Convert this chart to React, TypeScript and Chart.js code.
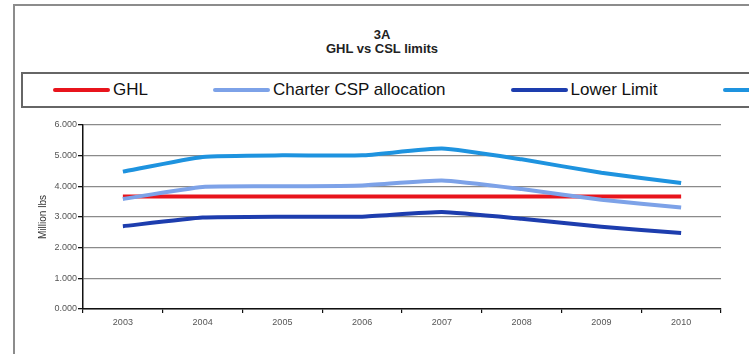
import React, { useEffect, useRef } from "react";
import { Chart, registerables } from "chart.js";

Chart.register(...registerables);

const categories = ["2003", "2004", "2005", "2006", "2007", "2008", "2009", "2010"];
const ghl = [3670, 3670, 3670, 3670, 3670, 3670, 3670, 3670];
const charterCsp = [3590, 3980, 4000, 4030, 4190, 3910, 3560, 3310];
const lowerLimit = [2700, 2980, 3010, 3010, 3160, 2940, 2680, 2480];
const upperLimit = [4480, 4960, 5010, 5010, 5230, 4880, 4440, 4110];
const yTickLabels = ["0.000", "1.000", "2.000", "3.000", "4.000", "5.000", "6.000"];
const seriesNames = ["GHL", "Charter CSP allocation", "Lower Limit", "Upper Limit"];
const seriesColors = ["#E8141C", "#7DA2E8", "#1D3DAE", "#1E93DF"];
const titleLines = ["3A", "GHL vs CSL limits"];

const FONT = "'Liberation Sans', Arial, sans-serif";

export default function App() {
  const ref = useRef<HTMLCanvasElement | null>(null);

  useEffect(() => {
    if (!ref.current) return;
    const values = [ghl, charterCsp, lowerLimit, upperLimit];
    const orders = [1, 0, 2, 3];
    const chart = new Chart(ref.current, {
      type: "line",
      data: {
        labels: categories,
        datasets: values.map((v, i) => ({
          label: seriesNames[i],
          data: v,
          borderColor: seriesColors[i],
          backgroundColor: seriesColors[i],
          borderWidth: 4,
          pointRadius: 0,
          tension: 0.15,
          fill: false,
          order: orders[i],
        })),
      },
      options: {
        responsive: false,
        animation: false,
        devicePixelRatio: 1,
        layout: { padding: { left: 37, top: 125, right: 28, bottom: 0 } },
        plugins: {
          legend: { display: false },
          title: { display: false },
          tooltip: { enabled: false },
        },
        scales: {
          x: {
            type: "category",
            offset: true,
            grid: {
              offset: true,
              drawOnChartArea: false,
              drawTicks: true,
              tickLength: 4,
              tickColor: "#111",
              lineWidth: 1.2,
            },
            border: { display: true, color: "#111", width: 1.5 },
            ticks: {
              autoSkip: false,
              maxRotation: 0,
              padding: 4,
              color: "#555",
              font: { family: FONT, size: 9 },
            },
            afterFit: (s: any) => {
              s.height = 45;
            },
          },
          y: {
            min: 0,
            max: 6000,
            ticks: {
              stepSize: 1000,
              padding: 1,
              color: "#555",
              font: { family: FONT, size: 9 },
              callback: (_v: any, i: number) => yTickLabels[i],
            },
            grid: {
              color: "#8a8a8a",
              lineWidth: 1.3,
              tickLength: 5,
              tickColor: "#111",
            },
            border: { display: true, color: "#111", width: 1.5 },
            title: {
              display: true,
              text: "Million lbs",
              color: "#333",
              padding: { top: 0, bottom: 0 },
              font: { family: FONT, size: 10 },
            },
            afterFit: (s: any) => {
              s.width = 46;
            },
          },
        },
      },
    });
    return () => chart.destroy();
  }, []);

  return (
    <div
      style={{
        position: "fixed",
        left: 0,
        top: 0,
        width: 749,
        height: 354,
        overflow: "hidden",
        background: "#fff",
        fontFamily: FONT,
      }}
    >
      <div
        style={{
          position: "absolute",
          left: 13,
          top: 4,
          width: 800,
          height: 400,
          border: "2px solid #8c8c8c",
        }}
      />
      <div
        style={{
          position: "absolute",
          left: 0,
          top: 28,
          width: 764,
          textAlign: "center",
          fontWeight: "bold",
          fontSize: 13,
          lineHeight: "14px",
          color: "#222",
        }}
      >
        {titleLines.map((t) => (
          <div key={t}>{t}</div>
        ))}
      </div>
      <div
        style={{
          position: "absolute",
          left: 21,
          top: 72,
          width: 800,
          height: 32,
          border: "2px solid #666",
        }}
      />
      <div
        style={{
          position: "absolute",
          left: 53,
          top: 74,
          height: 32,
          display: "flex",
          alignItems: "center",
          whiteSpace: "nowrap",
          gap: 65,
        }}
      >
        {seriesNames.map((n, i) => (
          <div key={n} style={{ display: "flex", alignItems: "center" }}>
            <div style={{ width: 57, height: 4, background: seriesColors[i], borderRadius: 2 }} />
            <span style={{ marginLeft: 3, fontSize: 17, color: "#111" }}>{n}</span>
          </div>
        ))}
      </div>
      <canvas
        ref={ref}
        width={749}
        height={354}
        style={{ position: "absolute", left: 0, top: 0, width: 749, height: 354 }}
      />
    </div>
  );
}
